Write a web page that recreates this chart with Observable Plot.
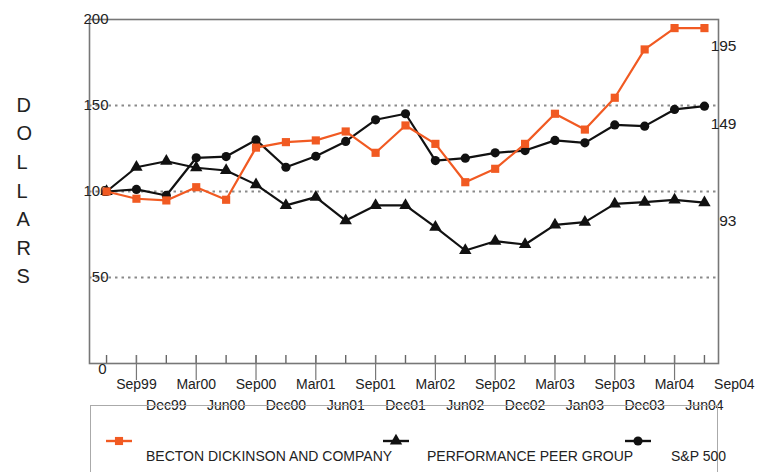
<!DOCTYPE html>
<html>
<head>
<meta charset="utf-8">
<script src="https://cdn.jsdelivr.net/npm/d3@7"></script>
<script src="https://cdn.jsdelivr.net/npm/@observablehq/plot@0.6"></script>
<style>
  html, body { margin: 0; padding: 0; background: #fff; }
  #wrap { position: relative; width: 759px; height: 472px; overflow: hidden; font-family: "Liberation Sans", Arial, sans-serif; }
  #legend { position: absolute; left: 90px; top: 405px; width: 628px; height: 90px; border: 1.5px solid #aaa; box-sizing: border-box; }
  #legend svg { position: absolute; left: 0; top: 0; overflow: visible; }
  .lt { position: absolute; font-size: 14px; color: #222; white-space: nowrap; line-height: 1; }
</style>
</head>
<body>
<div id="wrap"><div id="legend"></div></div>
<script>
// ---- data ----
const periodLabels = ["Sep99","Dec99","Mar00","Jun00","Sep00","Dec00","Mar01","Jun01","Sep01","Dec01","Mar02","Jun02","Sep02","Dec02","Mar03","Jan03","Sep03","Dec03","Mar04","Jun04","Sep04"];
const seriesNames = ["BECTON DICKINSON AND COMPANY", "PERFORMANCE PEER GROUP", "S&P 500"];
const bdx  = [100, 95.8, 94.8, 102.5, 95.2, 125.5, 128.7, 129.7, 134.9, 122.5, 138.4, 127.7, 105.4, 113.2, 127.7, 145.2, 136, 154.5, 182.6, 195, 195];
const peer = [100, 114.1, 117.6, 113.8, 112.2, 104, 91.9, 96.7, 83.1, 91.9, 91.9, 79.3, 65.7, 71.1, 69.2, 80.6, 82.2, 92.8, 93.8, 95.1, 93.5];
const sp   = [100, 101.2, 97.7, 119.6, 120.3, 130, 114.1, 120.5, 129.1, 141.7, 145.2, 118, 119.4, 122.5, 123.8, 129.7, 128.3, 138.7, 138, 147.7, 149.6];
const endLabels = ["195", "93", "149"];
const yTicks = [0, 50, 100, 150, 200];
const gridValues = [50, 100, 150];
const yTitle = "DOLLARS";

// ---- derived tables ----
const colors = ["#f15a22", "#111111", "#111111"];
const symbols = ["square", "triangle", "circle"];
const allSeries = [bdx, peer, sp];
const idx = bdx.map((_, i) => i);
const rows = allSeries.map((vals, s) => vals.map((v, i) => ({i, v, s})));
const labelRows = periodLabels.map((t, k) => ({i: k + 1, t}));
const topRow = labelRows.filter(d => d.i % 2 === 1);
const botRow = labelRows.filter(d => d.i % 2 === 0);
const ends = allSeries.map((vals, s) => ({v: vals[vals.length - 1], t: endLabels[s], s}));

const font = "'Liberation Sans', Arial, sans-serif";
const marks = [
  Plot.ruleY(gridValues, {stroke: "#8a8a8a", strokeWidth: 2, strokeDasharray: "2.5,4"}),
  Plot.frame({stroke: "#777", strokeWidth: 1.6}),
  // short inner ticks at every period
  Plot.axisX(idx, {tickSize: 8, dy: -8, tickFormat: () => "", label: null, stroke: "#666", strokeWidth: 1.4}),
  // long ticks at alternate periods
  Plot.axisX(topRow.filter(d => d.i <= 20).map(d => d.i), {tickSize: 25, dy: -8, tickFormat: () => "", label: null, stroke: "#777", strokeWidth: 1.2}),
  Plot.text(topRow, {x: "i", text: "t", frameAnchor: "bottom", dy: 25, fontSize: 14, fill: "#222"}),
  Plot.text(botRow, {x: "i", text: "t", frameAnchor: "bottom", dy: 46, fontSize: 14, fill: "#222"}),
  Plot.text(yTicks.filter(d => d !== 0), {y: d => d, text: d => String(d), frameAnchor: "left", dx: 19, textAnchor: "end", fontSize: 15, fill: "#222"}),
  Plot.text(yTicks.filter(d => d === 0), {y: d => d, text: d => String(d), frameAnchor: "left", dx: 17, dy: 6, textAnchor: "end", fontSize: 15, fill: "#222"}),
  Plot.text([yTitle], {frameAnchor: "left", dx: -73, dy: -3, text: d => d.split("").join("\n"), lineHeight: 1.43, fontSize: 20, fill: "#222"}),
  Plot.text(ends, {y: "v", text: "t", frameAnchor: "right", dx: 18, dy: 18, fontSize: 15.5, fill: "#222"})
];
// series lines and markers: peer, sp, then bdx on top
[1, 2, 0].forEach(s => {
  marks.push(Plot.line(rows[s], {x: "i", y: "v", stroke: colors[s], strokeWidth: 2.2}));
  marks.push(Plot.dot(rows[s], {x: "i", y: "v", symbol: () => symbols[s], fill: colors[s], r: 4.6, stroke: "none"}));
});

const chart = Plot.plot({
  width: 759,
  height: 472,
  marginLeft: 89,
  marginRight: 41,
  marginTop: 19,
  marginBottom: 109,
  x: {type: "linear", domain: [-0.57, 20.47], axis: null},
  y: {domain: [0, 200], axis: null},
  symbol: {type: "identity"},
  style: {fontFamily: font, fontSize: "14px", background: "transparent", overflow: "visible"},
  marks
});
const wrap = document.getElementById("wrap");
wrap.insertBefore(chart, wrap.firstChild);

// ---- legend ----
const legend = document.getElementById("legend");
const swatchX = [28, 305, 547];
const textX = [55, 336, 580];
const ns = "http://www.w3.org/2000/svg";
const sv = document.createElementNS(ns, "svg");
sv.setAttribute("width", 628); sv.setAttribute("height", 90);
seriesNames.forEach((name, s) => {
  const cx = swatchX[s], cy = 35;
  const ln = document.createElementNS(ns, "line");
  ln.setAttribute("x1", cx - 13); ln.setAttribute("x2", cx + 13);
  ln.setAttribute("y1", cy); ln.setAttribute("y2", cy);
  ln.setAttribute("stroke", colors[s]); ln.setAttribute("stroke-width", 2.4);
  sv.appendChild(ln);
  const p = document.createElementNS(ns, "path");
  p.setAttribute("d", d3.symbol(s === 0 ? d3.symbolSquare : s === 1 ? d3.symbolTriangle : d3.symbolCircle, 66)());
  p.setAttribute("transform", `translate(${cx},${cy})`);
  p.setAttribute("fill", colors[s]);
  sv.appendChild(p);
  const t = document.createElement("div");
  t.className = "lt";
  t.textContent = name;
  t.style.left = textX[s] + "px";
  t.style.top = "43px";
  legend.appendChild(t);
});
legend.appendChild(sv);
</script>
</body>
</html>
